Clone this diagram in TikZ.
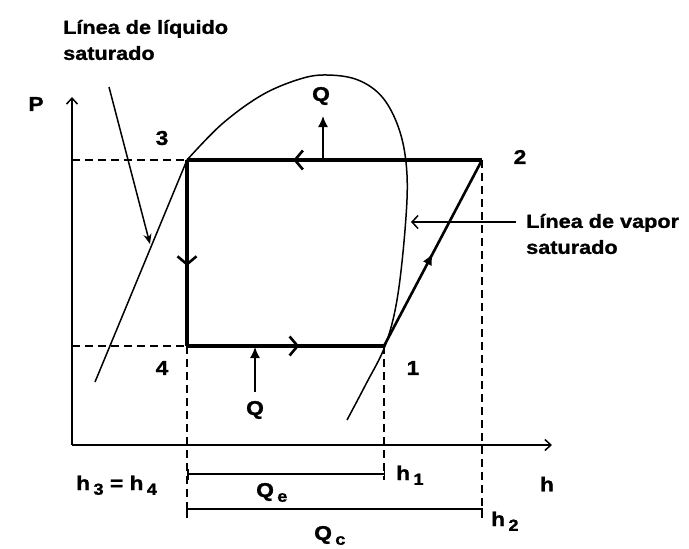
\documentclass[tikz,border=0pt]{standalone}
\usepackage{fontspec}
\setmainfont{Liberation Sans}[FakeStretch=1.14, BoldFeatures={FakeBold=1.2}]
\usetikzlibrary{arrows.meta,decorations.markings}
\newcommand{\lsb}[1]{\,\raisebox{-0.45ex}{\fontsize{16}{16}\selectfont #1}}
\tikzset{
  lbl/.style={font=\fontsize{20}{23}\selectfont\bfseries, inner sep=0pt},
  cyc/.style={line width=3.4pt},
  thin/.style={line width=1.5pt},
  dsh/.style={line width=1.8pt, dash pattern=on 8pt off 5pt},
  midarr/.style={postaction={decorate}, decoration={markings, mark=at position #1 with {\arrow{Straight Barb[length=8pt,width=19pt,line width=2.6pt]}}}},
  midtri/.style={postaction={decorate}, decoration={markings, mark=at position #1 with {\arrow{Latex[length=12pt,width=10pt]}}}},
}
\begin{document}
\begin{tikzpicture}[x=1pt,y=-1pt]
\useasboundingbox[fill=white] (0,0) rectangle (689,549);
% coordinates
\coordinate (p3) at (187,160);
\coordinate (p2) at (482,160);
\coordinate (p4) at (187,346);
\coordinate (p1) at (384,346);
\coordinate (o) at (72,445);
\coordinate (ytop) at (72,97);
\coordinate (xend) at (552,445);
% axes
\draw[thin, -{Straight Barb[length=6pt,width=11pt]}] (o) -- (ytop);
\draw[thin, -{Straight Barb[length=6pt,width=11pt]}] (o) -- (xend);
% dashed guides
\draw[dsh] (72,160) -- (p3);
\draw[dsh] (72,346) -- (p4);
\draw[dsh] (p4) -- (187,518);
\draw[dsh] (p1) -- (384,480);
\draw[dsh] (p2) -- (482,518);
% saturation lines
\draw[thin] (95,382) -- (p3);
\draw[thin] plot[smooth, tension=0.6] coordinates {(187,160) (222,124) (262,95) (300,79) (327,75) (358,80) (383,98) (400,132) (407,175) (405,230) (397,300) (385,346) (366,384) (347,420)};
% cycle
\draw[cyc, midarr=0.64] (p2) -- (p3);
\draw[cyc, midarr=0.57] (p3) -- (p4);
\draw[cyc, midarr=0.57] (p4) -- (p1);
\draw[line width=2.6pt, midtri=0.5] (p1) -- (p2);
% heat arrows
\node[lbl] (qtop) at (321,96) {Q};
\coordinate (qtopbase) at (323,160);
\draw[thin, -{Latex[length=11pt,width=10pt]}] (qtopbase) -- (323,116);
\node[lbl] (qbot) at (255,410) {Q};
\draw[thin, -{Latex[length=11pt,width=10pt]}] (255,392) -- (255,347);
% labels
\node[lbl] (l3) at (162,138) {3};
\node[lbl] (l2) at (520,157) {2};
\node[lbl] (l4) at (162,368) {4};
\node[lbl] (l1) at (413,368) {1};
\node[lbl] (lP) at (36,104) {P};
\node[lbl] (lh) at (547,484) {h};
\node[lbl, anchor=west, align=left, font=\fontsize{19}{26}\selectfont\bfseries] (liq) at (63,40) {Línea de líquido\\saturado};
\node[lbl, anchor=west, align=left, font=\fontsize{19}{26}\selectfont\bfseries] (vap) at (526,234) {Línea de vapor\\saturado};
\draw[thin, -{Stealth[length=10pt,width=8pt]}] (109,87) -- (150,244);
\draw[thin, -{Straight Barb[length=6pt,width=13pt]}] (516,222) -- (411,222);
% enthalpy brackets
\draw[thin, {Bar[width=11pt]}-{Bar[width=11pt]}] (187,474) -- (385,474);
\draw[thin] (187,518) -- (187,509) -- (482,509) -- (482,518);
\node[lbl, anchor=base west] (h34) at (76,490) {h\lsb{3} = h\lsb{4}};
\node[lbl, anchor=base west] (h1) at (396,480) {h\lsb{1}};
\node[lbl, anchor=base west] (h2) at (491,526) {h\lsb{2}};
\node[lbl, anchor=base west] (qe) at (256,497) {Q\lsb{e}};
\node[lbl, anchor=base west] (qc) at (314,540) {Q\lsb{c}};
\end{tikzpicture}
\end{document}
